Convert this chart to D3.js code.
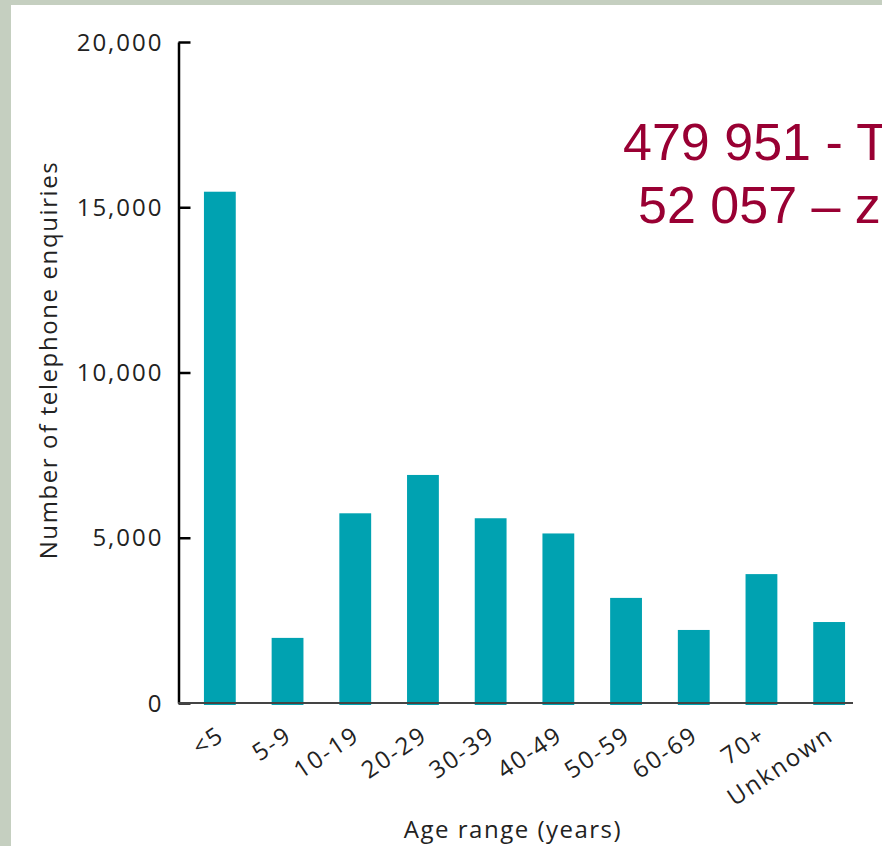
<!DOCTYPE html>
<html>
<head>
<meta charset="utf-8">
<script src="https://cdn.jsdelivr.net/npm/d3@7"></script>
<style>
  body { margin: 0; }
  .lbl { font-family: "Open Sans", sans-serif; fill: #222; }
</style>
</head>
<body>
<div id="chart"></div>
<script>
// data
var ageRanges = ["<5", "5-9", "10-19", "20-29", "30-39", "40-49", "50-59", "60-69", "70+", "Unknown"];
var enquiries = [15470, 1970, 5740, 6900, 5590, 5130, 3180, 2210, 3900, 2450];
var yTicks = [0, 5000, 10000, 15000, 20000];
var noteLines = ["479 951 - T", "52 057 \u2013 z"];

var data = ageRanges.map(function(a, i) { return { age: a, n: enquiries[i] }; });

var W = 882, H = 846;

var svg = d3.select("#chart").append("svg")
    .attr("width", W)
    .attr("height", H);

// slide frame
svg.append("rect").attr("width", W).attr("height", H).attr("fill", "#c5cfc0");
svg.append("rect").attr("x", 11).attr("y", 5).attr("width", W - 11).attr("height", H - 5).attr("fill", "#ffffff");

const x = d3.scaleBand()
    .domain(ageRanges)
    .range([186, 863])
    .paddingInner(0.53)
    .paddingOuter(0.265);

const y = d3.scaleLinear()
    .domain([0, 20000])
    .range([703, 42]);

// bars
svg.selectAll("rect.bar")
    .data(data)
    .join("rect")
    .attr("class", "bar")
    .attr("x", d => x(d.age))
    .attr("y", d => y(d.n))
    .attr("width", x.bandwidth())
    .attr("height", d => y(0) - y(d.n) + 2)
    .attr("fill", "#00a2b1");

// y axis
var yAxis = svg.append("g")
    .attr("transform", "translate(178.5,0)")
    .call(d3.axisLeft(y).tickValues(yTicks).tickFormat(d3.format(",")).tickSizeInner(-12).tickSizeOuter(0).tickPadding(15));

yAxis.select(".domain").attr("stroke", "#000").attr("stroke-width", 2.5);
yAxis.selectAll(".tick line").attr("stroke", "#000").attr("stroke-width", 2.5);
yAxis.selectAll(".tick text")
    .attr("class", "lbl")
    .style("font-size", "24px")
    .style("letter-spacing", "2px")
    .attr("dy", "0.34em");

// x axis
var xAxis = svg.append("g")
    .attr("transform", "translate(0," + y(0) + ")")
    .call(d3.axisBottom(x).tickSize(0));

xAxis.select(".domain").remove();
xAxis.append("line")
    .attr("x1", x.range()[0] - 8)
    .attr("x2", x.range()[1] - 10)
    .attr("stroke", "#444")
    .attr("stroke-width", 2);

xAxis.selectAll(".tick text")
    .attr("class", "lbl")
    .style("font-size", "24px")
    .style("letter-spacing", "2px")
    .attr("text-anchor", "end")
    .attr("x", 0)
    .attr("y", 0)
    .attr("dy", 0)
    .attr("transform", "translate(6,36) rotate(-34)");

// axis titles
svg.append("text")
    .attr("class", "lbl")
    .attr("transform", "translate(57,360) rotate(-90)")
    .attr("text-anchor", "middle")
    .style("font-size", "24px")
    .style("letter-spacing", "1.6px")
    .text("Number of telephone enquiries");

svg.append("text")
    .attr("class", "lbl")
    .attr("x", 513)
    .attr("y", 838)
    .attr("text-anchor", "middle")
    .style("font-size", "24px")
    .style("letter-spacing", "1.5px")
    .text("Age range (years)");

// red note, cut off by the slide edge as in the source
svg.selectAll("text.note")
    .data(noteLines)
    .join("text")
    .attr("class", "note")
    .attr("x", (d, i) => i === 0 ? 623 : 638)
    .attr("y", (d, i) => 160 + i * 63)
    .style("font-family", "'Liberation Sans', Arial, sans-serif")
    .style("font-size", "52px")
    .attr("fill", "#990033")
    .text(d => d);
</script>
</body>
</html>
